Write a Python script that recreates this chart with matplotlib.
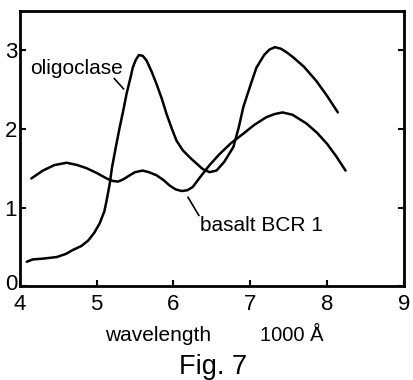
import matplotlib
matplotlib.use("Agg")
import matplotlib.pyplot as plt
import matplotlib.transforms as mtransforms
from matplotlib import font_manager

# font: narrow helvetica-like if available
names = {f.name for f in font_manager.fontManager.ttflist}
narrow = "Liberation Sans Narrow" if "Liberation Sans Narrow" in names else "Liberation Sans"
plt.rcParams['font.family'] = [narrow, 'DejaVu Sans']

# oligoclase curve
olig_x = [4.09, 4.17, 4.30, 4.48, 4.60, 4.69, 4.80, 4.89, 4.97, 5.04, 5.10, 5.13, 5.17,
          5.20, 5.25, 5.30, 5.35, 5.39, 5.44, 5.47, 5.51, 5.55, 5.60, 5.65, 5.72, 5.78,
          5.85, 5.91, 5.98, 6.04, 6.12, 6.21, 6.30, 6.38, 6.47, 6.56, 6.66, 6.78, 6.85,
          6.91, 7.00, 7.08, 7.18, 7.25, 7.32, 7.40, 7.48, 7.56, 7.70, 7.86, 8.00, 8.14]
olig_y = [0.31, 0.34, 0.35, 0.37, 0.41, 0.46, 0.51, 0.58, 0.68, 0.80, 0.95, 1.09, 1.30,
          1.51, 1.77, 2.02, 2.25, 2.45, 2.65, 2.78, 2.88, 2.94, 2.93, 2.87, 2.72, 2.57,
          2.38, 2.19, 2.00, 1.85, 1.73, 1.64, 1.56, 1.49, 1.45, 1.47, 1.58, 1.77, 2.02,
          2.28, 2.55, 2.78, 2.94, 3.01, 3.04, 3.02, 2.97, 2.91, 2.79, 2.61, 2.42, 2.21]

# basalt BCR 1 curve
bas_x = [4.15, 4.30, 4.45, 4.61, 4.75, 4.87, 5.00, 5.13, 5.20, 5.28, 5.35, 5.43, 5.50,
         5.60, 5.68, 5.78, 5.87, 5.95, 6.03, 6.11, 6.18, 6.25, 6.35, 6.47, 6.60, 6.75,
         6.91, 7.05, 7.21, 7.32, 7.42, 7.55, 7.73, 7.87, 8.00, 8.12, 8.24]
bas_y = [1.37, 1.47, 1.54, 1.57, 1.54, 1.50, 1.44, 1.37, 1.34, 1.33, 1.36, 1.41, 1.45,
         1.47, 1.45, 1.41, 1.35, 1.28, 1.23, 1.21, 1.22, 1.26, 1.39, 1.54, 1.68, 1.82,
         1.94, 2.05, 2.15, 2.19, 2.21, 2.18, 2.07, 1.95, 1.81, 1.65, 1.47]

xticks = [4, 5, 6, 7, 8, 9]
yticks = [0, 1, 2, 3]

fig = plt.figure(figsize=(4.13, 3.8), dpi=100)
ax = fig.add_axes([0.048, 0.247, 0.930, 0.724])

ax.plot(olig_x, olig_y, color='black', lw=1.8, solid_capstyle='round')
ax.plot(bas_x, bas_y, color='black', lw=1.8, solid_capstyle='round')

# labels with leader lines
ax.text(4.13, 2.77, "oligoclase", fontsize=15, va='center', ha='left')
ax.plot([5.23, 5.35], [2.64, 2.51], color='black', lw=1.2)
ax.text(6.34, 0.77, "basalt BCR 1", fontsize=15, va='center', ha='left')
ax.plot([6.19, 6.33], [1.13, 0.90], color='black', lw=1.2)

ax.set_xlim(4, 9)
ax.set_ylim(0, 3.5)
ax.set_xticks(xticks)
ax.set_yticks(yticks)
ax.tick_params(direction='in', length=4, width=1.5, labelsize=16, right=True)
ax.tick_params(axis='x', pad=6)
ax.tick_params(axis='y', pad=2)
for s in ax.spines.values():
    s.set_linewidth(2.0)

# nudge the "0" label up so it clears the "4"
fig.canvas.draw()
zero = ax.get_yticklabels()[0]
zero.set_transform(zero.get_transform() +
                   mtransforms.ScaledTranslation(0, 4 / 100, fig.dpi_scale_trans))

fig.text(0.255, 0.118, "wavelength", fontsize=15, ha='left', va='center')
fig.text(0.63, 0.118, "1000 Å", fontsize=14.5, ha='left', va='center')
fig.text(0.515, 0.035, "Fig. 7", fontsize=19.5, ha='center', va='center',
         family=['Liberation Sans', 'DejaVu Sans'])

fig.savefig("out.png", dpi=100)
